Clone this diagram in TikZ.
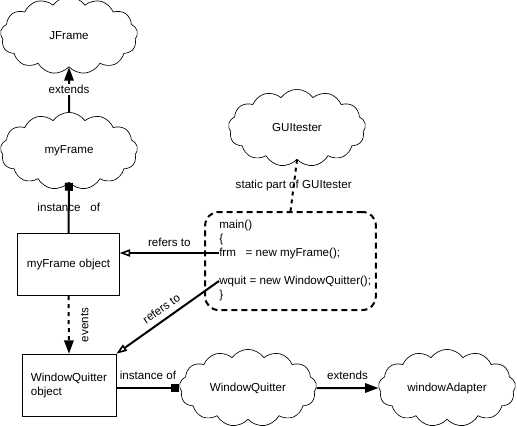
\documentclass[tikz,border=0pt]{standalone}
\usepackage{fontspec}
\setmainfont{Liberation Sans}
\usetikzlibrary{shapes.symbols,arrows.meta}

\begin{document}
\begin{tikzpicture}[x=0.75pt,y=-0.75pt,
	font=\fontsize{8.7}{10.5}\selectfont,
	blob/.style={draw, line width=0.5pt, cloud, cloud puffs=13, cloud puff arc=110, cloud ignores aspect, minimum width=103pt, minimum height=58pt, inner sep=0pt},
	objbox/.style={draw, line width=0.6pt, rectangle, inner sep=0pt, minimum width=70.5pt, minimum height=47pt},
	codeline/.style={anchor=west, inner sep=0pt},
	link/.style={line width=1.5pt},
	isa/.style={link, -{Triangle[length=10pt,width=7pt]}},
	inst/.style={link, -{Square[length=6pt,width=6pt]}},
	ref/.style={link, -{Triangle[open,length=8pt,width=5.5pt,line width=1.2pt]}}]
	\useasboundingbox (0,0) rectangle (517,425);
	% classes
	\node[blob] (jframe) at (69,35.5) {JFrame};
	\node[blob] (myframe) at (69,151) {myFrame};
	\node[blob] (gui) at (297,128) {GUItester};
	\node[blob] (wqcloud) at (248,388) {WindowQuitter};
	\node[blob] (adapter) at (447,388) {windowAdapter};
	% objects
	\node[objbox, minimum width=76pt] (myobj) at (68.5,264.5) {myFrame object};
	\node[objbox, align=left] (wqobj) at (69,385.5) {WindowQuitter\\object};
	% static part
	\node[draw, line width=1.5pt, dash pattern=on 4.5pt off 3pt, rounded corners=10pt, minimum width=128pt, minimum height=73.5pt] (code) at (290.5,261) {};
	\node[codeline] (cmain) at (219,225) {main()};
	\node[codeline] (copen) at (219,239) {\{};
	\node[codeline] (frm) at (219,253) {frm\ \ \ = new myFrame();};
	\node[codeline] (wquit) at (219,281) {wquit = new WindowQuitter();};
	\node[codeline] (cclose) at (219,295) {\}};
	% connectors
	\draw[isa] (myframe.north) -- node[fill=white, inner sep=1pt] {extends} (jframe.south);
	\draw[inst] (myobj.north) -- node {instance\ \ \ of} (myframe.south);
	\draw[ref] (frm.west) -- node[above=1pt] {refers to} (myobj.east |- frm.west);
	\draw[ref] (wquit.west) -- node[sloped, above=1pt] {refers to} (wqobj.north east);
	\draw[link, dashed, -{Triangle[length=10pt,width=7pt]}] (myobj.south) -- node[xshift=12pt, rotate=90] {events} (wqobj.north);
	\draw[link, dashed] (gui.south) -- node {static part of GUItester} (code.north);
	\draw[inst] (wqobj.east |- wqcloud.west) -- node[above=2pt] {instance of} (wqcloud.west);
	\draw[isa] (wqcloud.east) -- node[above=2pt] {extends} (adapter.west);
\end{tikzpicture}
\end{document}
